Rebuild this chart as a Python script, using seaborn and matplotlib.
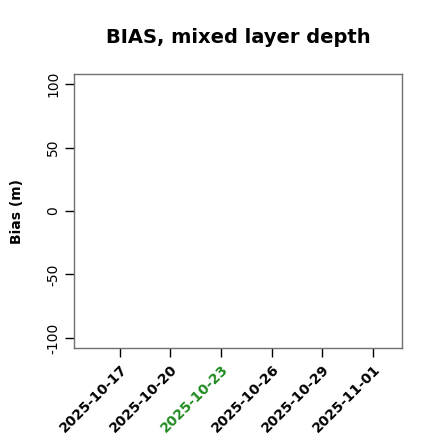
import numpy as np
import pandas as pd
import matplotlib
matplotlib.use("Agg")
import matplotlib.pyplot as plt
import seaborn as sns

# data period (no valid bias values in this window)
period = ["2025-10-15", "2025-11-02"]
bias = [np.nan, np.nan]
tick_dates = ["2025-10-17", "2025-10-20", "2025-10-23", "2025-10-26", "2025-10-29", "2025-11-01"]
highlight = "2025-10-23"
y_ticks = [-100, -50, 0, 50, 100]
y_range = [-100, 100]

sns.set_theme(style="white")
plt.rcParams['font.family'] = ['DejaVu Sans']
plt.rcParams.update({"text.color": "black", "axes.labelcolor": "black",
                     "xtick.color": "black", "ytick.color": "black"})

start = pd.Timestamp(period[0])
df = pd.DataFrame({"day": (pd.to_datetime(period) - start).days, "bias": bias})
tick_pos = (pd.to_datetime(tick_dates) - start).days.values

fig = plt.figure(figsize=(4.4, 4.4), dpi=100)
ax = fig.add_axes([0.168, 0.209, 0.7456, 0.6228])
sns.lineplot(data=df.dropna(), x="day", y="bias", ax=ax, color="black")

# R-style 4% padding
x0, x1 = df["day"].min(), df["day"].max()
pad = (x1 - x0) * 0.04
ax.set_xlim(x0 - pad, x1 + pad)
ypad = (y_range[1] - y_range[0]) * 0.04
ax.set_ylim(y_range[0] - ypad, y_range[1] + ypad)

ax.set_xticks(tick_pos)
ax.set_xticklabels(tick_dates)
plt.setp(ax.get_xticklabels(), rotation=45, ha="right", rotation_mode="anchor",
         fontsize=10, fontweight="bold")
for lab in ax.get_xticklabels():
    if lab.get_text() == highlight:
        lab.set_color("#228B22")

ax.set_yticks(y_ticks)
ax.set_yticklabels([str(v) for v in y_ticks])
plt.setp(ax.get_yticklabels(), rotation=90, va="center", fontsize=10)

ax.tick_params(axis="both", which="major", direction="out", length=6.5, width=1,
               color="black", bottom=True, left=True)
for s in ax.spines.values():
    s.set_color("#707070")
    s.set_linewidth(1)
ax.grid(False)

ax.set_xlabel("")
ax.set_ylabel("Bias (m)", fontsize=10, fontweight="bold", labelpad=16)
ax.set_title("BIAS, mixed layer depth", fontsize=14, fontweight="bold", pad=22)

fig.savefig("out.png", dpi=100)
